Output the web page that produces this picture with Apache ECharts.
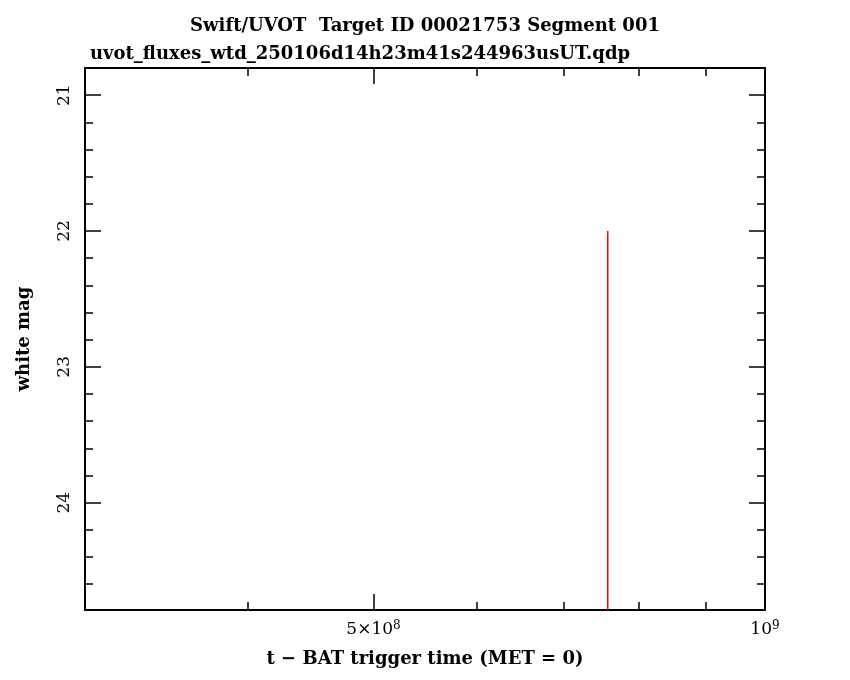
<!DOCTYPE html>
<html>
<head>
<meta charset="utf-8">
<script src="https://cdn.jsdelivr.net/npm/echarts@6/dist/echarts.min.js"></script>
<style>html,body{margin:0;background:#fff}#c{width:850px;height:680px}</style>
</head>
<body>
<div id="c"></div>
<script>
// data
const limitTime = [7.57e8];
const limitMag = [22.0];
const xRange = [3e8, 1e9];
const yRange = [20.8, 24.79];
const xMajor = [5e8, 1e9];
const xMinor = [3e8, 4e8, 6e8, 7e8, 8e8, 9e8];
const yMajor = [21, 22, 23, 24];
const yMinor = [];
for (let v = 20.8; v < 24.8; v += 0.2) yMinor.push(Math.round(v * 10) / 10);

const chart = echarts.init(document.getElementById('c'));
const font = 'DejaVu Serif';

function xAxis(pos, ticks, len, labels) {
  return {
    type: 'log', position: pos, min: xRange[0], max: xRange[1],
    axisLine: { show: true, onZero: false, lineStyle: { color: '#000', width: 2 } },
    axisTick: { show: true, inside: true, length: len, customValues: ticks, lineStyle: { color: '#000', width: 1.5 } },
    axisLabel: labels ? {
      show: true, customValues: xMajor, color: '#000', fontFamily: font, fontSize: 17, margin: 10,
      formatter: v => v >= 9.9e8 ? '10{s|9}' : '5×10{s|8}',
      rich: { s: { fontSize: 12, verticalAlign: 'top', padding: [0, 0, 8, 0], fontFamily: font } }
    } : { show: false },
    splitLine: { show: false }, minorTick: { show: false }
  };
}
function yAxis(pos, ticks, len, labels) {
  return {
    type: 'value', position: pos, inverse: true, min: yRange[0], max: yRange[1],
    axisLine: { show: true, onZero: false, lineStyle: { color: '#000', width: 2 } },
    axisTick: { show: true, inside: true, length: len, customValues: ticks, lineStyle: { color: '#000', width: 1.5 } },
    axisLabel: labels ? { show: true, customValues: yMajor, rotate: 90, color: '#000', fontFamily: font, fontSize: 17, margin: 12 } : { show: false },
    splitLine: { show: false }
  };
}

const titleStyle = { fontFamily: font, fontSize: 18, fontWeight: 'bold', color: '#000' };

chart.setOption({
  animation: false,
  backgroundColor: '#fff',
  title: [
    { text: 'Swift/UVOT  Target ID 00021753 Segment 001', left: 'center', top: 12, textStyle: titleStyle },
    { text: 'uvot_fluxes_wtd_250106d14h23m41s244963usUT.qdp', left: 85, top: 40, textStyle: titleStyle }
  ],
  grid: { left: 85, right: 85, top: 68, bottom: 70 },
  xAxis: [
    Object.assign(xAxis('bottom', xMajor, 16, true), { name: 't − BAT trigger time (MET = 0)', nameLocation: 'middle', nameGap: 40,
      nameTextStyle: titleStyle }),
    xAxis('bottom', xMinor, 8, false),
    xAxis('top', xMajor, 16, false),
    xAxis('top', xMinor, 8, false)
  ],
  yAxis: [
    Object.assign(yAxis('left', yMajor, 16, true), { name: 'white mag', nameLocation: 'middle', nameGap: 52,
      nameTextStyle: titleStyle }),
    yAxis('left', yMinor, 8, false),
    yAxis('right', yMajor, 16, false),
    yAxis('right', yMinor, 8, false)
  ],
  series: [{
    type: 'line', xAxisIndex: 0, yAxisIndex: 0, symbol: 'none',
    lineStyle: { color: '#ff0000', width: 1.5 },
    // upper limit: from the limit magnitude down to the faint edge of the axis
    data: [[limitTime[0], limitMag[0]], [limitTime[0], yRange[1]]]
  }]
});
</script>
</body>
</html>
